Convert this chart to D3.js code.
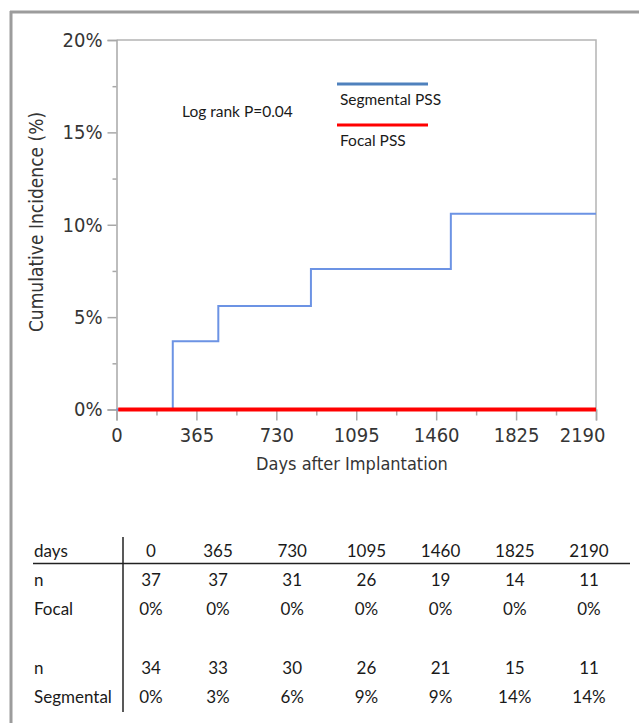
<!DOCTYPE html>
<html>
<head>
<meta charset="utf-8">
<script src="https://cdn.jsdelivr.net/npm/d3@7"></script>
<style>
  body { margin: 0; background: #fff; }
  svg { display: block; }
  .axis text { font-family: "DejaVu Sans Condensed", "DejaVu Sans", sans-serif; fill: #353535; }
  .axis path, .axis line { stroke: #a8a8a8; stroke-width: 1.5; }
  .calibri { font-family: Lato, "Open Sans", sans-serif; fill: #1a1a1a; }
</style>
</head>
<body>
<div id="chart"></div>
<script>

var days = [0, 365, 730, 1095, 1460, 1825, 2190];
var minorDays = [182.5, 547.5, 912.5, 1277.5, 1642.5, 2007.5];
var yTicks = [0, 5, 10, 15, 20];
var yMinor = [2.5, 7.5, 12.5, 17.5];

// segmental PSS: step changes (day, cumulative incidence %)
var segmentalDays = [0, 257, 465, 888, 1527, 2190];
var segmentalInc  = [0, 3.7, 5.6, 7.6, 10.6, 10.6];
// focal PSS: no events
var focalDays = [8, 2190];
var focalInc  = [0, 0];

var tableRows = ["days", "n", "Focal", "", "n", "Segmental"];
var focalN    = ["37", "37", "31", "26", "19", "14", "11"];
var focalPct  = ["0%", "0%", "0%", "0%", "0%", "0%", "0%"];
var segN      = ["34", "33", "30", "26", "21", "15", "11"];
var segPct    = ["0%", "3%", "6%", "9%", "9%", "14%", "14%"];

var W = 639, H = 723;

var svg = d3.select("#chart").append("svg")
    .attr("width", W)
    .attr("height", H);

// outer frame (top + left only visible)
svg.append("line").attr("x1", 10).attr("x2", W).attr("y1", 12).attr("y2", 12)
    .attr("stroke", "#9c9c9c").attr("stroke-width", 3);
svg.append("line").attr("x1", 11).attr("x2", 11).attr("y1", 11).attr("y2", H)
    .attr("stroke", "#9c9c9c").attr("stroke-width", 3);

var x = d3.scaleLinear().domain([0, 2190]).range([116.5, 596]);
var y = d3.scaleLinear().domain([0, 20]).range([409.5, 40]);

// plot frame top/right
svg.append("path")
    .attr("d", "M" + x(0) + "," + y(20) + "H" + x(2190) + "V" + y(0))
    .attr("fill", "none")
    .attr("stroke", "#b4b4b4")
    .attr("stroke-width", 1.5);

// y axis
svg.append("g")
    .attr("class", "axis")
    .attr("transform", "translate(" + x(0) + ",0)")
    .call(d3.axisLeft(y).tickValues(yTicks).tickSize(9).tickPadding(5)
        .tickFormat(function(d) { return d + "%"; }))
    .call(function(g) { g.selectAll("text").attr("font-size", 20); });

svg.append("g")
    .attr("class", "axis")
    .attr("transform", "translate(" + x(0) + ",0)")
    .call(d3.axisLeft(y).tickValues(yMinor).tickSize(4).tickFormat(""))
    .call(function(g) { g.select(".domain").remove(); });

// x axis
svg.append("g")
    .attr("class", "axis")
    .attr("transform", "translate(0," + y(0) + ")")
    .call(d3.axisBottom(x).tickValues(days).tickSize(11).tickPadding(7)
        .tickFormat(d3.format("d")))
    .call(function(g) {
        g.selectAll("text").attr("font-size", 20);
        // last label is pulled inside the page edge
        g.selectAll(".tick text")
            .filter(function(d) { return d === 2190; })
            .attr("text-anchor", "end")
            .attr("dx", 9);
    });

svg.append("g")
    .attr("class", "axis")
    .attr("transform", "translate(0," + y(0) + ")")
    .call(d3.axisBottom(x).tickValues(minorDays).tickSize(6).tickFormat(""))
    .call(function(g) { g.select(".domain").remove(); });

// axis titles
svg.append("text")
    .attr("x", 352).attr("y", 470)
    .attr("text-anchor", "middle")
    .attr("font-size", 18)
    .style("font-family", "'DejaVu Sans Condensed', 'DejaVu Sans', sans-serif")
    .style("fill", "#353535")
    .text("Days after Implantation");

svg.append("text")
    .attr("transform", "translate(43,222) rotate(-90)")
    .attr("text-anchor", "middle")
    .attr("font-size", 19)
    .style("font-family", "'DejaVu Sans Condensed', 'DejaVu Sans', sans-serif")
    .style("fill", "#353535")
    .text("Cumulative Incidence (%)");

// survival step lines
var step = d3.line()
    .x(function(d) { return x(d[0]); })
    .y(function(d) { return y(d[1]); })
    .curve(d3.curveStepAfter);

svg.append("path")
    .datum(d3.zip(segmentalDays, segmentalInc))
    .attr("fill", "none")
    .attr("stroke", "#6c93e4")
    .attr("stroke-width", 2)
    .attr("d", step);

svg.append("path")
    .datum(d3.zip(focalDays, focalInc))
    .attr("fill", "none")
    .attr("stroke", "#ff0000")
    .attr("stroke-width", 4)
    .attr("d", step);

// legend + annotation
svg.append("line").attr("x1", 337).attr("x2", 428).attr("y1", 84).attr("y2", 84)
    .attr("stroke", "#4f81bd").attr("stroke-width", 3);
svg.append("text").attr("class", "calibri").attr("x", 340).attr("y", 105)
    .attr("font-size", 15.5).text("Segmental PSS");
svg.append("line").attr("x1", 337).attr("x2", 428).attr("y1", 125).attr("y2", 125)
    .attr("stroke", "#ff0000").attr("stroke-width", 3);
svg.append("text").attr("class", "calibri").attr("x", 340).attr("y", 146)
    .attr("font-size", 15.5).text("Focal PSS");
svg.append("text").attr("class", "calibri").attr("x", 182).attr("y", 117)
    .attr("font-size", 15.5).text("Log rank P=0.04");

// number-at-risk table
var col = d3.scaleLinear().domain([365, 2190]).range([218, 589]);
var rowY = d3.scalePoint().domain(d3.range(tableRows.length)).range([557, 703]);

var table = svg.append("g").attr("class", "table");

table.selectAll(".rowlabel")
    .data(tableRows)
    .enter().append("text")
    .attr("class", "calibri rowlabel")
    .attr("x", 34)
    .attr("y", function(d, i) { return rowY(i); })
    .attr("font-size", 17)
    .text(function(d) { return d; });

var cells = [days.map(String), focalN, focalPct, null, segN, segPct];
cells.forEach(function(vals, r) {
    if (!vals) return;
    table.selectAll(".cell" + r)
        .data(vals)
        .enter().append("text")
        .attr("class", "calibri cell" + r)
        .attr("x", function(d, i) { return days[i] === 0 ? 151 : col(days[i]); })
        .attr("y", rowY(r))
        .attr("text-anchor", "middle")
        .attr("font-size", 17)
        .text(function(d) { return d; });
});

table.append("line")
    .attr("x1", 33).attr("x2", 630).attr("y1", 563.5).attr("y2", 563.5)
    .attr("stroke", "#222").attr("stroke-width", 1.5);
table.append("line")
    .attr("x1", 123).attr("x2", 123).attr("y1", 537).attr("y2", 712)
    .attr("stroke", "#222").attr("stroke-width", 1.5);

</script>
</body>
</html>
